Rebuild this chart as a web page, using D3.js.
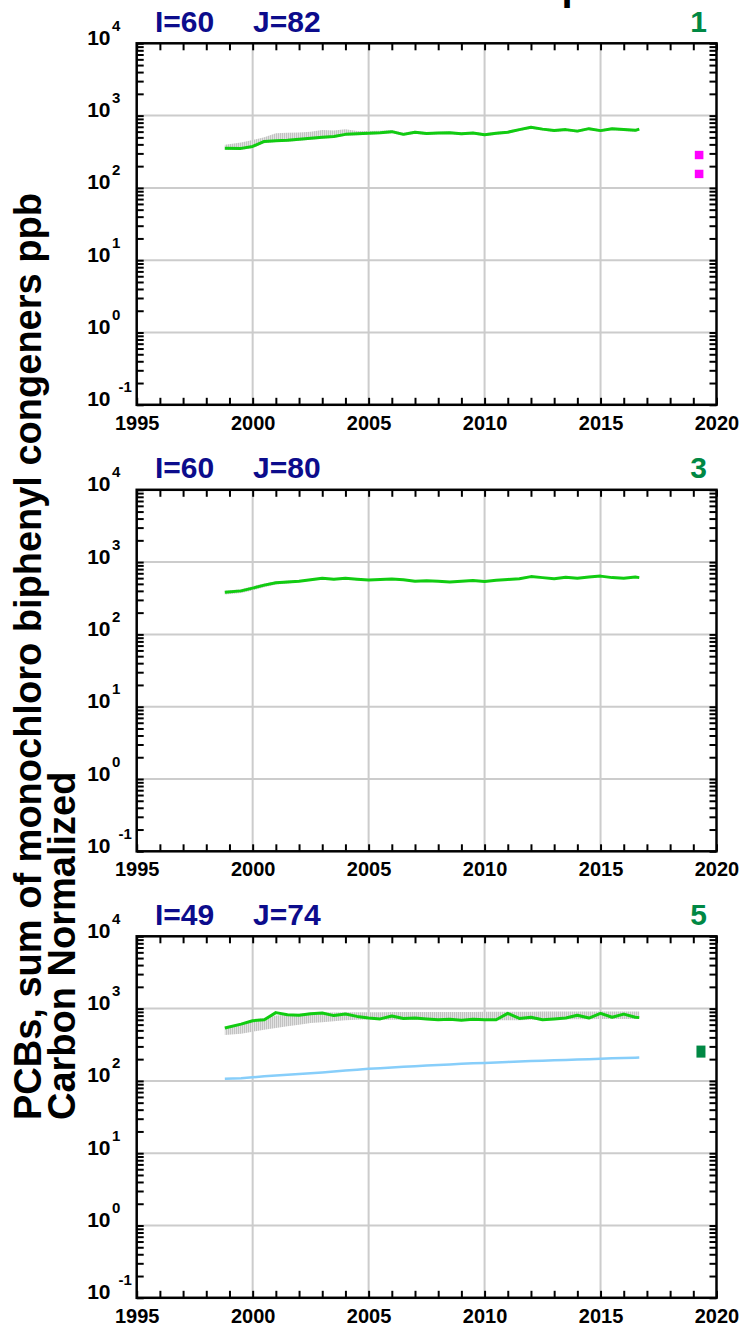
<!DOCTYPE html>
<html><head><meta charset="utf-8">
<script src="https://cdn.jsdelivr.net/npm/d3@7"></script>
<style>
body{margin:0;background:#fff}
svg{display:block}
text{font-family:"Liberation Sans",Arial,Helvetica,sans-serif;font-weight:bold}
</style>
</head><body>
<svg id="c" width="742" height="1333"></svg>
<script>
// ---------------- data ----------------
const years = [1998.8,1999.5,2000.0,2000.5,2001.0,2001.5,2002.0,2002.5,2003.0,2003.5,2004.0,2004.5,2005.0,2005.5,2006.0,2006.5,2007.0,2007.5,2008.0,2008.5,2009.0,2009.5,2010.0,2010.5,2011.0,2011.5,2012.0,2012.5,2013.0,2013.5,2014.0,2014.5,2015.0,2015.5,2016.0,2016.5,2016.67];

const p1Green = [354,352,375,440,450,455,472,485,500,515,550,560,570,580,600,550,590,565,575,580,560,575,545,570,590,640,690,650,620,640,610,660,620,660,640,625,650];
const p1High  = [395,425,460,500,570,580,585,600,630,620,650,610,610,615,630,580,615,590,600,605,585,600,570,595,615,665,715,675,645,665,635,685,645,685,665,650,670];
const p1Low   = [335,335,355,415,430,435,450,462,478,492,525,535,545,555,572,525,563,540,550,555,535,550,520,545,565,612,660,622,592,612,583,631,592,631,612,597,622];

const p2Green = [382,400,437,480,518,530,545,570,597,580,597,580,565,575,585,570,545,550,545,530,545,555,540,560,575,590,630,610,590,615,600,620,640,610,600,620,610];
const p2High  = [400,420,465,505,540,550,560,585,610,595,610,592,578,587,597,582,556,562,556,541,556,567,551,572,587,602,643,622,602,628,612,633,653,622,612,633,622];
const p2Low   = [355,375,405,450,490,505,525,550,575,562,578,563,550,560,570,556,532,537,532,518,532,542,527,547,562,577,615,596,577,601,586,606,626,596,586,606,596];

const p3Green = [540,610,680,700,880,820,810,850,870,800,840,780,740,720,790,730,740,720,700,710,690,710,700,700,860,730,760,700,720,740,810,740,860,760,840,760,750];
const p3High  = [560,620,700,740,800,830,850,880,890,880,890,890,890,890,895,895,895,895,900,900,900,900,905,905,905,905,905,910,910,910,910,910,910,910,910,910,910];
const p3Low   = [430,450,480,510,540,570,600,630,650,670,690,700,705,700,700,700,700,700,695,690,685,690,690,690,690,690,700,690,700,710,710,710,720,720,720,720,720];
const p3Blue  = [107,109,112,116,119,122,125,128,131,135,139,143,147,150,153,157,160,163,166,169,172,175,177,180,183,185,188,190,193,195,198,200,203,205,207,209,210];

const labelsI = ["I=60","I=60","I=49"];
const labelsJ = ["J=82","J=80","J=74"];
const panelNumbers = ["1","3","5"];
const xTickLabels = [1995,2000,2005,2010,2015,2020];
const yDecades = [-1,0,1,2,3,4];

const obsP1Year = 2019.25;
const obsP1Values = [285,156];
const obsP3Year = 2019.33;
const obsP3Range = [210,308];

const yTitle1 = "PCBs, sum of monochloro biphenyl congeners ppb";
const yTitle2 = "Carbon Normalized";
const topTitle = "Monochloro Group";

// ---------------- layout ----------------
const svg = d3.select("#c");
const left = 136.7, right = 716.5;
const tops = [43.3, 489.8, 936.3];
const ph = 361.5;
const x = d3.scaleLinear().domain([1995,2020]).range([left,right]);

const defs = svg.append("defs");
const pat = defs.append("pattern").attr("id","hatch").attr("patternUnits","userSpaceOnUse")
  .attr("width",2).attr("height",4);
pat.append("rect").attr("width",2).attr("height",4).attr("fill","#e2e2e2");
pat.append("rect").attr("width",1).attr("height",4).attr("fill","#c2c2c2");

const panels = [
  {green:p1Green, hi:p1High, lo:p1Low},
  {green:p2Green, hi:p2High, lo:p2Low},
  {green:p3Green, hi:p3High, lo:p3Low, blue:p3Blue}
];

const allYears = d3.range(1995, 2021);
const minorVals = [];
yDecades.slice(0,-1).forEach(k => { for (let m=2;m<=9;m++) minorVals.push(m*Math.pow(10,k)); });
const majorVals = yDecades.map(k => Math.pow(10,k));

// top cut-off title (only its descender shows, as in the reference)
svg.append("text").attr("x",586).attr("y",-0.5).attr("text-anchor","end")
  .attr("font-size",40).attr("fill","#000").text(topTitle);

panels.forEach((p,i) => {
  const top = tops[i], bot = top + ph;
  const y = d3.scaleLog().domain([0.1,1e4]).range([bot, top]);
  const g = svg.append("g");

  // grid
  g.selectAll(".hg").data(majorVals.slice(1,-1)).join("line")
    .attr("x1",left).attr("x2",right).attr("y1",d=>y(d)).attr("y2",d=>y(d))
    .attr("stroke","#cccccc").attr("stroke-width",2);
  g.selectAll(".vg").data(xTickLabels.slice(1,-1)).join("line")
    .attr("x1",d=>x(d)).attr("x2",d=>x(d)).attr("y1",top).attr("y2",bot)
    .attr("stroke","#cccccc").attr("stroke-width",2);

  // gray range band
  const area = d3.area().x((d,j)=>x(years[j])).y0((d,j)=>y(p.lo[j])).y1((d,j)=>y(p.hi[j]));
  g.append("path").datum(years).attr("d",area).attr("fill","url(#hatch)");

  // blue line
  if (p.blue) {
    const lb = d3.line().x((d,j)=>x(years[j])).y(d=>y(d));
    g.append("path").datum(p.blue).attr("d",lb).attr("fill","none")
      .attr("stroke","#87cefa").attr("stroke-width",2.5);
  }
  // green line
  const lg = d3.line().x((d,j)=>x(years[j])).y(d=>y(d)).curve(d3.curveLinear);
  g.append("path").datum(p.green).attr("d",lg).attr("fill","none")
    .attr("stroke","#11cc11").attr("stroke-width",3).attr("stroke-linejoin","round");

  // observations
  if (i===0) {
    g.selectAll(".obs").data(obsP1Values).join("rect")
      .attr("x",x(obsP1Year)-4.3).attr("y",d=>y(d)-4.2).attr("width",8.6).attr("height",8.4)
      .attr("fill","#ff00ff");
  }
  if (i===2) {
    g.append("rect").attr("x",x(obsP3Year)-4.5).attr("y",y(obsP3Range[1]))
      .attr("width",9).attr("height",y(obsP3Range[0])-y(obsP3Range[1]))
      .attr("fill","#008844");
  }

  // axes ticks
  const tickStyle = sel => { sel.select(".domain").remove(); sel.selectAll("line").attr("stroke","#000").attr("stroke-width",2); };
  g.append("g").attr("transform",`translate(${left},0)`)
    .call(d3.axisLeft(y).tickValues(minorVals.concat(majorVals)).tickSize(-7).tickFormat("")).call(tickStyle);
  g.append("g").attr("transform",`translate(${right},0)`)
    .call(d3.axisRight(y).tickValues(minorVals.concat(majorVals)).tickSize(-7).tickFormat("")).call(tickStyle);
  g.append("g").attr("transform",`translate(0,${top})`)
    .call(d3.axisTop(x).tickValues(allYears).tickSize(-7).tickFormat("")).call(tickStyle);
  const xb = g.append("g").attr("transform",`translate(0,${bot})`)
    .call(d3.axisBottom(x).tickValues(allYears).tickSize(-7).tickPadding(11)
      .tickFormat(d => xTickLabels.includes(d) ? d : "")).call(tickStyle);
  xb.selectAll("text").attr("font-size",20).attr("fill","#000")
    .attr("font-family",'"Liberation Sans",Arial,sans-serif').attr("font-weight","bold");

  // frame
  g.append("rect").attr("x",left).attr("y",top).attr("width",right-left).attr("height",ph)
    .attr("fill","none").attr("stroke","#000").attr("stroke-width",2.5);

  // y labels
  yDecades.forEach(k => {
    const yy = y(Math.pow(10,k));
    g.append("text").attr("x",110.5).attr("y",yy+1.5).attr("text-anchor","end")
      .attr("font-size",21).attr("fill","#000").text("10");
    g.append("text").attr("x",k<0?118.5:112).attr("y",yy-12.5).attr("text-anchor","start")
      .attr("font-size",15).attr("fill","#000").text(String(k));
  });

  // panel labels
  g.append("text").attr("x",155).attr("y",top-11.5).attr("font-size",30).attr("fill","#0c0c8c").text(labelsI[i]);
  g.append("text").attr("x",253).attr("y",top-11.5).attr("font-size",30).attr("fill","#0c0c8c").text(labelsJ[i]);
  g.append("text").attr("x",707).attr("y",top-11.5).attr("text-anchor","end").attr("font-size",30)
    .attr("fill","#008844").text(panelNumbers[i]);
});

// y title
svg.append("text").attr("transform","translate(41,1120) rotate(-90)").attr("text-anchor","start")
  .attr("font-size",38).attr("fill","#000").text(yTitle1);
svg.append("text").attr("transform","translate(75,1120) rotate(-90)").attr("text-anchor","start")
  .attr("font-size",38).attr("fill","#000").text(yTitle2);
</script>
</body></html>
